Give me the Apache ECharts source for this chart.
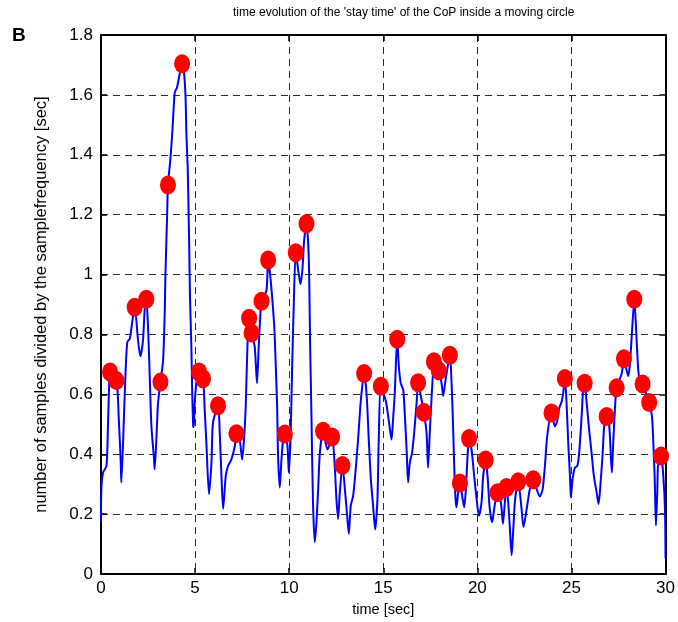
<!DOCTYPE html>
<html>
<head>
<meta charset="utf-8">
<script src="https://cdn.jsdelivr.net/npm/echarts@6/dist/echarts.min.js"></script>
<style>
html,body{margin:0;padding:0;background:#fff;}
#chart{width:678px;height:622px;}
</style>
</head>
<body>
<div id="chart"></div>
<script>
// stay-time trace (time in s, value in s)
const lineT = [0.00,0.02,0.11,0.29,0.37,0.43,0.48,0.82,0.94,1.05,1.08,1.22,1.31,1.40,1.53,1.62,1.79,1.97,2.09,2.23,2.32,2.41,2.50,2.59,2.68,2.82,2.85,2.95,3.03,3.16,3.30,3.39,3.42,3.51,3.56,3.69,3.80,3.92,4.04,4.18,4.31,4.41,4.49,4.54,4.61,4.66,4.69,4.73,4.80,4.84,4.90,4.93,4.98,5.07,5.21,5.42,5.51,5.60,5.74,5.87,5.95,6.22,6.31,6.40,6.49,6.63,6.75,6.93,7.11,7.20,7.37,7.50,7.60,7.69,7.78,7.87,8.00,8.17,8.29,8.38,8.47,8.53,8.79,8.88,9.02,9.20,9.27,9.36,9.41,9.50,9.59,9.68,9.77,9.91,9.98,10.07,10.15,10.24,10.35,10.51,10.60,10.71,10.79,10.92,11.04,11.11,11.19,11.27,11.36,11.45,11.54,11.63,11.80,12.04,12.28,12.42,12.51,12.60,12.69,12.83,12.96,13.08,13.17,13.27,13.40,13.52,13.66,13.81,13.98,14.11,14.23,14.34,14.46,14.57,14.69,14.76,14.87,15.14,15.31,15.44,15.52,15.61,15.74,15.83,15.93,16.06,16.15,16.24,16.32,16.41,16.53,16.64,16.77,16.85,17.00,17.16,17.30,17.38,17.47,17.56,17.65,17.69,17.95,18.10,18.18,18.31,18.54,18.63,18.71,18.77,18.84,18.89,18.98,19.07,19.19,19.30,19.39,19.48,19.56,19.69,19.83,19.96,20.08,20.22,20.31,20.44,20.54,20.66,20.79,20.89,21.07,21.25,21.36,21.46,21.55,21.64,21.73,21.82,21.90,21.99,22.08,22.17,22.35,22.45,22.62,22.79,22.97,23.15,23.32,23.47,23.59,23.71,23.94,24.12,24.24,24.35,24.48,24.56,24.65,24.74,24.83,24.92,24.97,25.06,25.18,25.31,25.41,25.54,25.62,25.70,25.81,25.94,26.07,26.19,26.34,26.44,26.55,26.66,26.74,26.87,27.01,27.10,27.15,27.22,27.31,27.40,27.67,27.79,27.93,28.02,28.11,28.20,28.34,28.43,28.50,28.59,28.78,29.13,29.28,29.35,29.42,29.49,29.56,29.61,29.76,29.88,29.97,30.00];
const lineV = [0.172,0.284,0.339,0.361,0.493,0.626,0.675,0.646,0.526,0.372,0.306,0.526,0.682,0.775,0.786,0.824,0.891,0.780,0.727,0.780,0.881,0.918,0.824,0.659,0.493,0.383,0.350,0.460,0.571,0.641,0.714,0.881,0.990,1.189,1.299,1.387,1.487,1.608,1.625,1.669,1.704,1.675,1.597,1.465,1.354,1.189,1.089,0.924,0.765,0.626,0.493,0.491,0.571,0.637,0.675,0.652,0.549,0.438,0.267,0.372,0.504,0.562,0.471,0.328,0.218,0.328,0.361,0.383,0.427,0.469,0.449,0.383,0.449,0.560,0.758,0.854,0.805,0.758,0.637,0.758,0.868,0.911,0.946,1.049,0.979,0.835,0.725,0.560,0.394,0.289,0.383,0.449,0.468,0.427,0.339,0.449,0.670,0.891,1.073,1.001,0.968,1.023,1.111,1.170,1.056,0.780,0.504,0.228,0.107,0.173,0.284,0.405,0.477,0.416,0.458,0.361,0.251,0.184,0.272,0.363,0.284,0.195,0.135,0.228,0.262,0.339,0.449,0.582,0.670,0.604,0.449,0.317,0.228,0.149,0.251,0.449,0.627,0.576,0.504,0.449,0.516,0.604,0.784,0.692,0.637,0.615,0.526,0.416,0.306,0.372,0.405,0.471,0.571,0.639,0.593,0.540,0.471,0.355,0.471,0.582,0.681,0.709,0.679,0.637,0.595,0.648,0.731,0.637,0.493,0.361,0.251,0.223,0.272,0.304,0.262,0.223,0.284,0.394,0.453,0.416,0.328,0.251,0.195,0.239,0.328,0.381,0.328,0.217,0.173,0.217,0.272,0.239,0.168,0.239,0.289,0.239,0.151,0.063,0.140,0.239,0.284,0.308,0.217,0.157,0.217,0.284,0.315,0.284,0.259,0.284,0.361,0.460,0.538,0.493,0.510,0.554,0.576,0.604,0.653,0.571,0.438,0.328,0.256,0.317,0.355,0.361,0.405,0.526,0.615,0.637,0.571,0.482,0.405,0.328,0.272,0.234,0.306,0.405,0.493,0.526,0.493,0.383,0.339,0.438,0.549,0.622,0.670,0.719,0.681,0.661,0.703,0.791,0.918,0.824,0.736,0.659,0.635,0.573,0.526,0.438,0.328,0.162,0.272,0.372,0.394,0.328,0.217,0.052];

// local maxima marked with red dots
const peakT = [0.48,0.82,1.79,2.41,3.16,3.56,4.31,5.21,5.42,6.22,7.20,7.87,8.00,8.53,8.88,9.77,10.35,10.92,11.80,12.28,12.83,13.98,14.87,15.74,16.85,17.16,17.69,17.95,18.54,19.07,19.56,20.44,21.07,21.55,22.17,22.97,23.94,24.65,25.70,26.87,27.40,27.79,28.34,28.78,29.13,29.76];
const peakV = [0.675,0.646,0.891,0.918,0.641,1.299,1.704,0.675,0.652,0.562,0.469,0.854,0.805,0.911,1.049,0.468,1.073,1.170,0.477,0.458,0.363,0.670,0.627,0.784,0.639,0.540,0.709,0.679,0.731,0.304,0.453,0.381,0.272,0.289,0.308,0.315,0.538,0.653,0.637,0.526,0.622,0.719,0.918,0.635,0.573,0.394];

const xTicks = [0, 5, 10, 15, 20, 25, 30];
const yTicks = [0, 0.2, 0.4, 0.6, 0.8, 1, 1.2, 1.4, 1.6, 1.8];

const titleText = "time evolution of the 'stay time' of the CoP inside a moving circle";
const xName = 'time [sec]';
const yName = 'number of samples divided by the samplefrequency [sec]';

const chart = echarts.init(document.getElementById('chart'), null, {renderer: 'canvas'});

const gridLine = {show: true, lineStyle: {color: '#2a2a2a', width: 1, type: [7, 5]}};
const frame = {show: true, onZero: false, lineStyle: {color: '#000', width: 2}};
const tickIn = {show: true, inside: true, length: 6, lineStyle: {color: '#000', width: 1.5}};
const labelFont = {fontFamily: 'Liberation Sans, Arial, sans-serif', fontSize: 17, color: '#000'};

chart.setOption({
  animation: false,
  backgroundColor: '#fff',
  grid: {left: 101, right: 11, top: 35, bottom: 43, containLabel: false},
  graphic: [
    {type: 'text', left: 12, top: 26, style: {text: 'B', font: 'bold 19px "Liberation Sans", Arial, sans-serif', fill: '#000'}},
    {type: 'text', left: 233, top: 7, style: {text: titleText, font: '12px "Liberation Sans Narrow", "Liberation Sans", sans-serif', fill: '#000'}}
  ],
  xAxis: [
    {
      type: 'value', min: 0, max: 30, interval: 5, position: 'bottom',
      name: xName, nameLocation: 'middle', nameGap: 23,
      nameTextStyle: {fontFamily: 'Liberation Sans, Arial, sans-serif', fontSize: 14.5, color: '#000'},
      axisLine: frame, axisTick: tickIn, splitLine: gridLine,
      axisLabel: Object.assign({margin: 6, formatter: v => xTicks.includes(v) ? String(v) : ''}, labelFont)
    },
    {
      type: 'value', min: 0, max: 30, interval: 5, position: 'top',
      axisLine: frame, axisTick: tickIn, splitLine: {show: false}, axisLabel: {show: false}
    }
  ],
  yAxis: [
    {
      type: 'value', min: 0, max: 1.8, interval: 0.2, position: 'left',
      name: yName, nameLocation: 'middle', nameGap: 51, nameRotate: 90,
      nameTextStyle: {fontFamily: 'Liberation Sans, Arial, sans-serif', fontSize: 16.5, color: '#000'},
      axisLine: frame, axisTick: tickIn, splitLine: gridLine,
      axisLabel: Object.assign({margin: 8, formatter: v => {
        const t = yTicks.find(y => Math.abs(y - v) < 1e-6);
        return t === undefined ? '' : String(t);
      }}, labelFont)
    },
    {
      type: 'value', min: 0, max: 1.8, interval: 0.2, position: 'right',
      axisLine: frame, axisTick: tickIn, splitLine: {show: false}, axisLabel: {show: false}
    }
  ],
  series: [
    {
      type: 'line', xAxisIndex: 0, yAxisIndex: 0,
      data: lineT.map((t, i) => [t, lineV[i]]),
      showSymbol: false, smooth: 0.25,
      lineStyle: {color: '#0000ff', width: 2},
      z: 3
    },
    {
      type: 'scatter', xAxisIndex: 0, yAxisIndex: 0,
      data: peakT.map((t, i) => [t, peakV[i]]),
      symbol: 'circle', symbolSize: [16, 19],
      itemStyle: {color: '#ff0000', opacity: 1},
      z: 4
    }
  ]
});
</script>
</body>
</html>
